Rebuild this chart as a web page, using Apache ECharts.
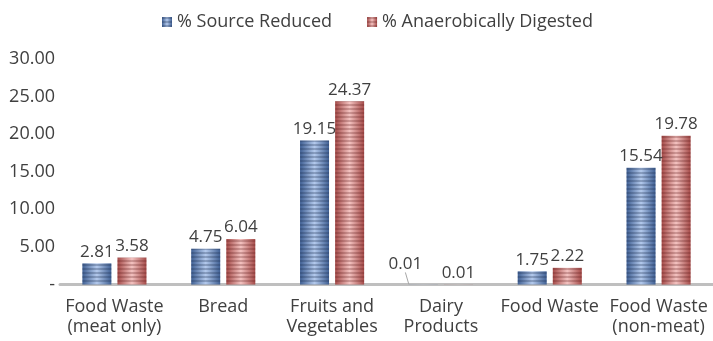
<!DOCTYPE html>
<html>
<head>
<meta charset="utf-8">
<script src="https://cdn.jsdelivr.net/npm/echarts@6/dist/echarts.min.js"></script>
<style>
html,body{margin:0;padding:0;background:#fff;}
#chart{width:713px;height:341px;}
</style>
</head>
<body>
<div id="chart"></div>
<script>
const categories = ['Food Waste\n(meat only)', 'Bread', 'Fruits and\nVegetables', 'Dairy\nProducts', 'Food Waste', 'Food Waste\n(non-meat)'];
const seriesNames = ['% Source Reduced', '% Anaerobically Digested'];
const sourceReduced = [2.81, 4.75, 19.15, 0.01, 1.75, 15.54];
const anaerobicallyDigested = [3.58, 6.04, 24.37, 0.01, 2.22, 19.78];
const yMin = 0, yMax = 30, yStep = 5;

const FONT = '"Open Sans", "Liberation Sans", sans-serif';
const TXT = '#404040';

function grad(edge, mid) {
  return new echarts.graphic.LinearGradient(0, 0, 1, 0, [
    { offset: 0, color: edge },
    { offset: 0.5, color: mid },
    { offset: 1, color: edge }
  ]);
}
function stripes(c) {
  return { symbol: 'rect', symbolSize: 1, dashArrayX: [4, 0], dashArrayY: [2, 2], rotation: 0, color: c };
}

const chart = echarts.init(document.getElementById('chart'), null, { renderer: 'canvas' });

const labelCommon = {
  show: true, position: 'top', distance: 3,
  fontFamily: FONT, fontSize: 17, color: TXT,
  formatter: p => Number(p.value).toFixed(2)
};

chart.setOption({
  animation: false,
  textStyle: { fontFamily: FONT },
  legend: {
    left: 157, top: 8,
    itemWidth: 10, itemHeight: 10, itemGap: 35,
    icon: 'rect',
    textStyle: { fontFamily: FONT, fontSize: 18, color: TXT },
    data: seriesNames
  },
  grid: { left: 60, right: -2, top: 59, bottom: 56.5, containLabel: false },
  xAxis: {
    type: 'category',
    data: categories,
    axisLine: { lineStyle: { color: '#bfbfbf', width: 3 } },
    axisTick: { show: false },
    axisLabel: { interval: 0, fontFamily: FONT, fontSize: 18, lineHeight: 20, color: TXT, margin: 12 }
  },
  yAxis: {
    type: 'value', min: yMin, max: yMax, interval: yStep,
    axisLine: { show: false }, axisTick: { show: false }, splitLine: { show: false },
    axisLabel: {
      fontFamily: FONT, fontSize: 18, color: TXT, margin: 5,
      formatter: v => v === 0 ? '-' : v.toFixed(2)
    }
  },
  series: [
    {
      name: seriesNames[0], type: 'bar', barWidth: 29, barGap: '21%',
      data: sourceReduced.map((v, i) => i === 3
        ? { value: v, labelLine: { show: true, lineStyle: { color: '#a6a6a6', width: 1 } } }
        : v),
      itemStyle: { color: grad('#3f5f93', '#b3c9ec'), decal: stripes('rgba(30,45,80,0.28)') },
      label: labelCommon,
      labelLayout: p => p.dataIndex === 3 ? { dx: -18, dy: -9 } : {}
    },
    {
      name: seriesNames[1], type: 'bar', barWidth: 29,
      data: anaerobicallyDigested,
      itemStyle: { color: grad('#a44a48', '#f3c2c0'), decal: stripes('rgba(90,25,25,0.25)') },
      label: labelCommon
    }
  ]
});
</script>
</body>
</html>
